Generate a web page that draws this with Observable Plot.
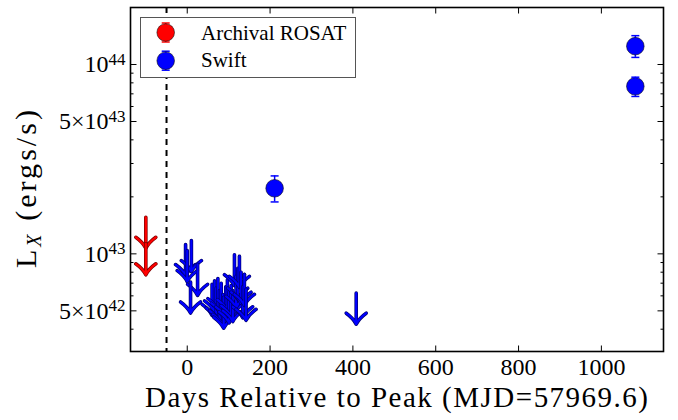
<!DOCTYPE html>
<html><head><meta charset="utf-8">
<script src="https://cdn.jsdelivr.net/npm/d3@7"></script>
<script src="https://cdn.jsdelivr.net/npm/@observablehq/plot@0.6"></script>
<style>html,body{margin:0;padding:0;background:#fff;}
svg text, svg tspan { font-family: "Liberation Serif", "Times New Roman", serif; }</style>
</head><body><div id="chart"></div>
<script>
// ---- data ----
const rosatDays = [-100, -100];
const rosatLimits = [1.56e43, 1.13e43];

const swiftDays = [211, 1082, 1082];
const swiftLx = [2.22e43, 1.25e44, 7.67e43];
const swiftLo = [1.88e43, 1.09e44, 6.78e43];
const swiftHi = [2.58e43, 1.42e44, 8.57e43];

const limitDays = [-4, 10, 0, 25, 8,
  60, 66, 70, 74, 78, 82, 86, 88, 93, 97, 101, 106, 110, 114, 118, 122, 126, 130, 134, 138, 142,
  408];
const limitLx = [1.12e43, 1.175e43, 1.04e43, 8.8e42, 7.1e42,
  6.9e42, 7.2e42, 6.6e42, 7.4e42, 6.4e42, 7.0e42, 6.1e42, 5.9e42, 6.7e42, 7.3e42, 6.3e42, 6.8e42, 6.4e42, 9.9e42, 7.6e42, 8.4e42, 9.7e42, 8.0e42, 6.7e42, 7.8e42, 6.5e42,
  6.2e42];

const peakDay = -50;
const xTicks = [0, 200, 400, 600, 800, 1000];
const yTicks = [5e42, 1e43, 5e43, 1e44];
const yTickLabels = ["5×10^42", "10^43", "5×10^43", "10^44"];
const yMinor = [4e42, 6e42, 7e42, 8e42, 9e42, 2e43, 3e43, 4e43, 6e43, 7e43, 8e43, 9e43];
const xLabel = "Days Relative to Peak (MJD=57969.6)";
const legendNames = ["Archival ROSAT", "Swift"];
const xDomain = [-137, 1150];
const yDomain = [3.05e42, 2.0e44];

// ---- tables ----
const rosat = rosatDays.map((d, i) => ({x: d, y: rosatLimits[i]}));
const swift = swiftDays.map((d, i) => ({x: d, y: swiftLx[i], lo: swiftLo[i], hi: swiftHi[i]}));
const limits = limitDays.map((d, i) => ({x: d, y: limitLx[i]}));
const yFmt = new Map(yTicks.map((t, i) => [t, yTickLabels[i]]));

// ---- symbols (pixel geometry) ----
const AL = 31, AW = 10, AH = 11;
const arrowDown = {draw(c) {
  c.moveTo(0, 0); c.lineTo(0, AL);
  c.moveTo(-AW, AL - AH);
  c.quadraticCurveTo(-3, AL - 6, 0, AL);
  c.quadraticCurveTo(3, AL - 6, AW, AL - AH);
}};
const cap = {draw(c) { c.moveTo(-4, 0); c.lineTo(4, 0); }};
const tick = (dx, dy) => ({draw(c) { c.moveTo(0, 0); c.lineTo(dx, dy); }});

function arrowMarks(data, dark, light) {
  return data.flatMap(d => [
    Plot.dot([d], {x: "x", y: "y", symbol: arrowDown, fill: "none", stroke: dark, strokeWidth: 3.6, strokeLinecap: "round", strokeLinejoin: "round"}),
    Plot.dot([d], {x: "x", y: "y", symbol: arrowDown, fill: "none", stroke: light, strokeWidth: 2.2, strokeLinecap: "round", strokeLinejoin: "round"})
  ]);
}

const chart = Plot.plot({
  width: 678, height: 420,
  marginLeft: 130, marginRight: 15, marginTop: 7, marginBottom: 69,
  style: "font-family: 'Liberation Serif', 'Times New Roman', serif; font-size: 24px; background: white; color: black; overflow: visible;",
  x: {domain: xDomain, ticks: xTicks, tickSize: 0, tickPadding: 6, label: null, tickFormat: d => String(d)},
  y: {type: "log", domain: yDomain, ticks: yTicks, tickSize: 0, tickPadding: 5, label: null, tickFormat: d => yFmt.get(d)},
  marks: [
    Plot.ruleX([peakDay], {stroke: "black", strokeWidth: 2, strokeDasharray: "6,5"}),
    ...arrowMarks(rosat, "#7a0000", "#ff0000"),
    ...arrowMarks(limits, "#00006e", "#0000ff"),
    Plot.ruleX(swift, {x: "x", y1: "lo", y2: "hi", stroke: "#0000ff", strokeWidth: 1.5}),
    Plot.dot(swift, {x: "x", y: "y", r: 8.8, fill: "#0000ff", stroke: "#111", strokeWidth: 0.6}),
    Plot.dot(swift, {x: "x", y: "lo", symbol: cap, stroke: "#0000ff", strokeWidth: 1.5}),
    Plot.dot(swift, {x: "x", y: "hi", symbol: cap, stroke: "#0000ff", strokeWidth: 1.5}),
    // inward ticks
    Plot.dot(xTicks, {x: d => d, y: () => yDomain[0], symbol: tick(0, -6), stroke: "black", strokeWidth: 1}),
    Plot.dot(xTicks, {x: d => d, y: () => yDomain[1], symbol: tick(0, 6), stroke: "black", strokeWidth: 1}),
    Plot.dot(yTicks, {x: () => xDomain[0], y: d => d, symbol: tick(6, 0), stroke: "black", strokeWidth: 1}),
    Plot.dot(yTicks, {x: () => xDomain[1], y: d => d, symbol: tick(-6, 0), stroke: "black", strokeWidth: 1}),
    Plot.dot(yMinor, {x: () => xDomain[0], y: d => d, symbol: tick(3, 0), stroke: "black", strokeWidth: 1}),
    Plot.dot(yMinor, {x: () => xDomain[1], y: d => d, symbol: tick(-3, 0), stroke: "black", strokeWidth: 1}),
    Plot.frame({stroke: "black", strokeWidth: 1.6})
  ]
});
document.getElementById("chart").append(chart);

// ---- post: tick font, superscripts, labels, legend ----
const NS = "http://www.w3.org/2000/svg";
const svg = chart.tagName.toLowerCase() === "svg" ? chart : chart.querySelector("svg");
const FF = "font-family: 'Liberation Serif', 'Times New Roman', serif;";
svg.querySelectorAll("text").forEach(t => {
  t.setAttribute("style", FF + " font-size: 24px;");
  const s = t.textContent;
  if (!s.includes("^")) return;
  const [b, e] = s.split("^");
  while (t.firstChild) t.removeChild(t.firstChild);
  const t1 = document.createElementNS(NS, "tspan"); t1.textContent = b;
  const t2 = document.createElementNS(NS, "tspan"); t2.textContent = e;
  t2.setAttribute("dy", "-0.45em"); t2.setAttribute("style", "font-size: 17px;");
  t.append(t1, t2);
});

const sel = d3.select(svg);
sel.append("text")
  .attr("x", 396.5).attr("y", 407).attr("text-anchor", "middle")
  .attr("style", FF + " font-size: 29px;")
  .attr("textLength", 503).attr("lengthAdjust", "spacing")
  .text(xLabel);

const yl = sel.append("text")
  .attr("transform", "translate(36,189) rotate(-90)").attr("text-anchor", "middle")
  .attr("style", FF + " font-size: 30px;")
  .attr("textLength", 158).attr("lengthAdjust", "spacing");
yl.append("tspan").text("L");
yl.append("tspan").attr("style", "font-size: 20px; font-style: italic;").attr("dy", 5).text("X");
yl.append("tspan").attr("dy", -5).text(" (ergs/s)");

const lg = sel.append("g");
lg.append("rect").attr("x", 140.5).attr("y", 17.5).attr("width", 215).attr("height", 60)
  .attr("fill", "white").attr("stroke", "#555").attr("stroke-width", 1);
const entries = [{c: "#ff0000", y: 32.5, name: legendNames[0], base: 39.5}, {c: "#0000ff", y: 60.7, name: legendNames[1], base: 67}];
entries.forEach(e => {
  lg.append("line").attr("x1", 165.7).attr("x2", 165.7).attr("y1", e.y - 9.5).attr("y2", e.y + 9.5).attr("stroke", e.c).attr("stroke-width", 1.5);
  lg.append("line").attr("x1", 161.7).attr("x2", 169.7).attr("y1", e.y - 9.5).attr("y2", e.y - 9.5).attr("stroke", e.c).attr("stroke-width", 1.5);
  lg.append("line").attr("x1", 161.7).attr("x2", 169.7).attr("y1", e.y + 9.5).attr("y2", e.y + 9.5).attr("stroke", e.c).attr("stroke-width", 1.5);
  lg.append("circle").attr("cx", 165.7).attr("cy", e.y).attr("r", 8.8).attr("fill", e.c).attr("stroke", "#111").attr("stroke-width", 0.6);
  lg.append("text").attr("x", 201).attr("y", e.base).attr("text-anchor", "start")
    .attr("style", FF + " font-size: 21px;").text(e.name);
});
</script></body></html>
